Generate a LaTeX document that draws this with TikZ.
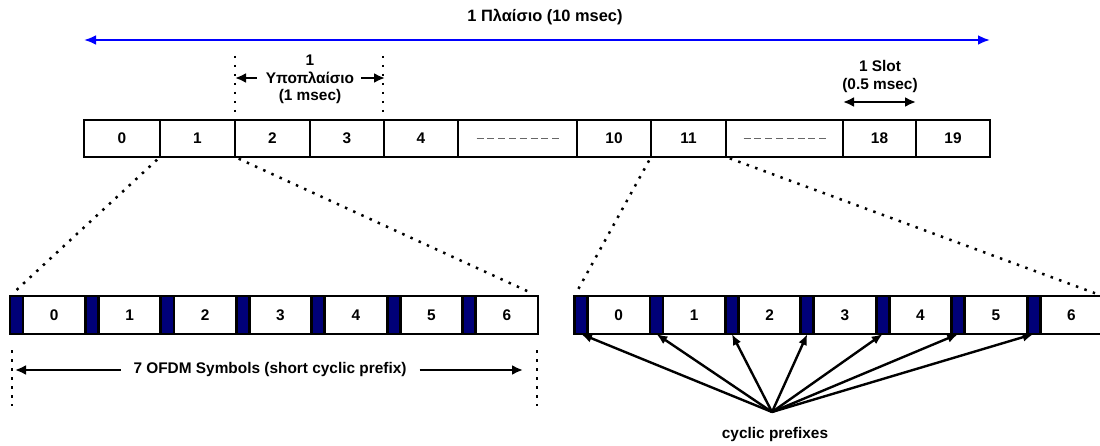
\documentclass[tikz,border=0pt]{standalone}
\usepackage{fontspec}
\setmainfont{Liberation Sans}
\usetikzlibrary{arrows.meta}
\definecolor{cpblue}{RGB}{0,0,120}

\begin{document}
\begin{tikzpicture}[x=1pt,y=-1pt,
every node/.style={font=\bfseries\fontsize{15.4}{18.5}\selectfont,inner sep=0pt,outer sep=0pt},
slotbox/.style={draw,line width=2.8pt,minimum height=37pt},
symbox/.style={draw,line width=2.8pt,minimum height=38pt,minimum width=62.4pt},
cpbox/.style={draw,fill=cpblue,line width=2.8pt,minimum height=38pt,minimum width=13pt},
zoomline/.style={line width=2.5pt,dash pattern=on 2.5pt off 6.5pt},
gapline/.style={line width=1.4pt,black!60,dash pattern=on 7pt off 3.8pt},
dimarrow/.style={line width=2.4pt,-{Latex[length=11pt,width=10pt]}}]
\clip (0,0) rectangle (1100,446);

% radio frame, 20 slots
\node[slotbox,minimum width=76pt] (S0) at (122,138.5) {0};
\node[slotbox,minimum width=75pt] (S1) at (197.5,138.5) {1};
\node[slotbox,minimum width=75pt] (S2) at (272.5,138.5) {2};
\node[slotbox,minimum width=74pt] (S3) at (347,138.5) {3};
\node[slotbox,minimum width=74pt] (S4) at (421,138.5) {4};
\node[slotbox,minimum width=119pt] (Sd1) at (517.5,138.5) {};
\node[slotbox,minimum width=74pt] (S10) at (614,138.5) {10};
\node[slotbox,minimum width=75pt] (S11) at (688.5,138.5) {11};
\node[slotbox,minimum width=117pt] (Sd2) at (784.5,138.5) {};
\node[slotbox,minimum width=73pt] (S18) at (879.5,138.5) {18};
\node[slotbox,minimum width=74pt] (S19) at (953,138.5) {19};
\draw[gapline] ([xshift=-41pt]Sd1.center) -- ([xshift=41pt]Sd1.center);
\draw[gapline] ([xshift=-41pt]Sd2.center) -- ([xshift=41pt]Sd2.center);

% frame length
\node[font=\bfseries\fontsize{16.4}{18.5}\selectfont] (frame) at (545,17) {1 Πλαίσιο (10 msec)};
\coordinate (frameL) at (84,40);
\coordinate (frameR) at (990,40);
\draw[dimarrow,blue,{Latex[length=12pt,width=10pt]}-{Latex[length=12pt,width=10pt]}] (frameL) -- (frameR);

% subframe
\node (subN) at (310,60) {1};
\node (sub) at (310,78) {Υποπλαίσιο};
\node (subT) at (310,97) {(1 msec)};
\coordinate (subL) at (235,78);
\coordinate (subR) at (385,78);
\draw[zoomline] (235,56) -- (235,113);
\draw[zoomline] (383,56) -- (383,113);
\draw[dimarrow] ([xshift=-9pt]sub.west) -- (subL);
\draw[dimarrow] ([xshift=7pt]sub.east) -- (subR);

% slot length
\node[align=center] (slot) at (880,76.5) {1 Slot\\(0.5 msec)};
\coordinate (slotL) at (843,102);
\coordinate (slotR) at (916,102);
\draw[dimarrow,{Latex[length=11pt,width=10pt]}-{Latex[length=11pt,width=10pt]}] (slotL) -- (slotR);

% slot 1, short cyclic prefix
\node[cpbox] (L0cp) at (16.5,315) {};   \node[symbox] (L0) at (54.2,315) {0};
\node[cpbox] (L1cp) at (91.9,315) {};   \node[symbox] (L1) at (129.6,315) {1};
\node[cpbox] (L2cp) at (167.4,315) {};  \node[symbox] (L2) at (205.1,315) {2};
\node[cpbox] (L3cp) at (242.8,315) {};  \node[symbox] (L3) at (280.5,315) {3};
\node[cpbox] (L4cp) at (318.2,315) {};  \node[symbox] (L4) at (355.9,315) {4};
\node[cpbox] (L5cp) at (393.7,315) {};  \node[symbox] (L5) at (431.4,315) {5};
\node[cpbox] (L6cp) at (469.1,315) {};  \node[symbox] (L6) at (506.8,315) {6};

% slot 11
\node[cpbox] (R0cp) at (581,315) {};    \node[symbox] (R0) at (618.7,315) {0};
\node[cpbox] (R1cp) at (656.4,315) {};  \node[symbox] (R1) at (694.1,315) {1};
\node[cpbox] (R2cp) at (731.9,315) {};  \node[symbox] (R2) at (769.6,315) {2};
\node[cpbox] (R3cp) at (807.3,315) {};  \node[symbox] (R3) at (845,315) {3};
\node[cpbox] (R4cp) at (882.7,315) {};  \node[symbox] (R4) at (920.4,315) {4};
\node[cpbox] (R5cp) at (958.2,315) {};  \node[symbox] (R5) at (995.9,315) {5};
\node[cpbox] (R6cp) at (1033.6,315) {}; \node[symbox] (R6) at (1071.3,315) {6};

% zoom lines
\draw[zoomline,shorten <=4pt,shorten >=8pt] (S1.south west) -- (L0cp.north west);
\draw[zoomline,shorten <=4pt,shorten >=8pt] (S1.south east) -- (L6.north east);
\draw[zoomline,shorten <=4pt,shorten >=8pt] (S11.south west) -- (R0cp.north west);
\draw[zoomline,shorten <=4pt,shorten >=8pt] (S11.south east) -- (R6.north east);

% 7 OFDM symbols
\node[inner xsep=13pt] (ofdm) at (270,370) {7 OFDM Symbols (short cyclic prefix)};
\coordinate (ofdmL) at (15,370);
\coordinate (ofdmR) at (523,370);
\draw[zoomline] (12,350) -- (12,406);
\draw[zoomline] (537,350) -- (537,406);
\draw[dimarrow] (ofdm.west) -- (ofdmL);
\draw[dimarrow] (ofdm.east) -- (ofdmR);

% cyclic prefixes
\coordinate (cp) at (772,412);
\node (cplabel) at (775,435) {cyclic prefixes};
\foreach \k in {0,...,6}
  \draw[line width=2.4pt,-{Latex[length=11pt,width=9pt]}] (cp) -- (R\k cp.south);
\end{tikzpicture}
\end{document}
